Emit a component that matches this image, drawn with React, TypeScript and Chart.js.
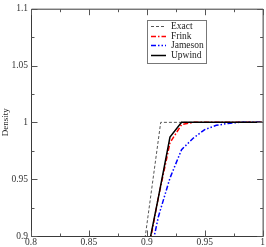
import React, { useEffect, useRef } from "react";
import { Chart, registerables } from "chart.js";

Chart.register(...registerables);

// ---- data ----
const gridX = [0.89, 0.9, 0.91, 0.92, 0.93, 0.94, 0.95, 0.96, 0.97, 0.98, 0.99, 1.0];
const frinkY = [0.83, 0.88, 0.934, 0.982, 0.998, 1.0, 1.0, 1.0, 1.0, 1.0, 1.0, 1.0];
const jamesonY = [0.82, 0.869, 0.917, 0.951, 0.976, 0.986, 0.9936, 0.9974, 0.999, 1.0, 1.0, 1.0];
const upwindY = [0.83, 0.883, 0.934, 0.987, 1.0, 1.0, 1.0, 1.0, 1.0, 1.0, 1.0, 1.0];
const exactX = [0.895, 0.912, 1.0];
const exactY = [0.872, 1.0, 1.0];

const seriesLabels = ["Exact", "Frink", "Jameson", "Upwind"];
const xTickValues = [0.8, 0.85, 0.9, 0.95, 1.0];
const xTickLabels = ["0.8", "0.85", "0.9", "0.95", "1"];
const yTickValues = [0.9, 0.95, 1.0, 1.05, 1.1];
const yTickLabels = ["0.9", "0.95", "1", "1.05", "1.1"];
const yTitle = "Density";

const FONT = "'Liberation Serif', 'DejaVu Serif', serif";

const pts = (xs: number[], ys: number[]) => xs.map((x, i) => ({ x, y: ys[i] }));

const labelFor = (vals: number[], labels: string[]) => (v: any) => {
  const n = Number(v);
  const i = vals.findIndex((t) => Math.abs(t - n) < 1e-6);
  return i >= 0 ? labels[i] : "";
};

const frameTicks = {
  id: "frameTicks",
  afterDatasetsDraw(chart: any) {
    const { ctx, chartArea: a, scales } = chart;
    const xs = scales.x;
    const ys = scales.y;
    ctx.save();
    ctx.strokeStyle = "#3a3a3a";
    ctx.lineWidth = 1;
    const L = a.left + 0.5, R = a.right + 0.5, T = a.top + 0.5, B = a.bottom + 0.5;
    ctx.beginPath();
    ctx.rect(L, T, R - L, B - T);
    ctx.stroke();
    ctx.strokeStyle = "#555";
    ctx.beginPath();
    for (let k = 0; k <= 8; k++) {
      const v = xs.min + (k * (xs.max - xs.min)) / 8;
      const len = k % 2 === 0 ? 6 : 3;
      const px = Math.round(xs.getPixelForValue(v)) + 0.5;
      ctx.moveTo(px, B); ctx.lineTo(px, B - len);
      ctx.moveTo(px, T); ctx.lineTo(px, T + len);
    }
    for (let k = 0; k <= 8; k++) {
      const v = ys.min + (k * (ys.max - ys.min)) / 8;
      const len = k % 2 === 0 ? 6 : 3;
      const py = Math.round(ys.getPixelForValue(v)) + 0.5;
      ctx.moveTo(L, py); ctx.lineTo(L + len, py);
      ctx.moveTo(R, py); ctx.lineTo(R - len, py);
    }
    ctx.stroke();

    // legend box
    const bx = 147.5, by = 20.5, bw = 59, bh = 43;
    ctx.fillStyle = "#fff";
    ctx.fillRect(bx, by, bw, bh);
    ctx.strokeStyle = "#777";
    ctx.strokeRect(bx, by, bw, bh);
    const rows = [26, 35.5, 45, 55];
    ctx.font = `9.5px ${FONT}`;
    ctx.textBaseline = "middle";
    ctx.textAlign = "left";
    const order = [0, 1, 2, 3];
    order.forEach((di, r) => {
      const ds = chart.data.datasets[di];
      const yy = Math.round(rows[r]) + 0.5;
      ctx.save();
      ctx.strokeStyle = ds.borderColor;
      ctx.lineWidth = ds.borderWidth;
      ctx.setLineDash(ds.borderDash || []);
      ctx.beginPath();
      ctx.moveTo(151, yy);
      ctx.lineTo(166, yy);
      ctx.stroke();
      ctx.restore();
      ctx.fillStyle = "#222";
      ctx.fillText(ds.label, 171, rows[r] + 0.5);
    });
    ctx.restore();
  },
};

export default function App() {
  const ref = useRef<HTMLCanvasElement>(null);
  useEffect(() => {
    if (!ref.current) return;
    const chart = new Chart(ref.current, {
      type: "scatter",
      data: {
        datasets: [
          {
            label: seriesLabels[0],
            data: pts(exactX, exactY),
            showLine: true,
            borderColor: "#555",
            borderWidth: 1,
            borderDash: [3, 2],
            pointRadius: 0,
            order: 3,
          },
          {
            label: seriesLabels[1],
            data: pts(gridX, frinkY),
            showLine: true,
            borderColor: "#ff0000",
            borderWidth: 1.5,
            borderDash: [5, 2, 1.5, 2],
            pointRadius: 0,
            order: 2,
          },
          {
            label: seriesLabels[2],
            data: pts(gridX, jamesonY),
            showLine: true,
            borderColor: "#0000ff",
            borderWidth: 1.5,
            borderDash: [5, 2, 1.5, 2, 1.5, 2],
            pointRadius: 0,
            order: 1,
          },
          {
            label: seriesLabels[3],
            data: pts(gridX, upwindY),
            showLine: true,
            borderColor: "#000",
            borderWidth: 1.5,
            pointRadius: 0,
            order: 0,
          },
        ] as any,
      },
      options: {
        animation: false,
        responsive: false,
        maintainAspectRatio: false,
        layout: { padding: { top: 3, right: 3, left: 0, bottom: 0 }, autoPadding: false } as any,
        plugins: { legend: { display: false }, tooltip: { enabled: false } },
        scales: {
          x: {
            type: "linear",
            min: 0.8,
            max: 1.0,
            grid: { display: false, drawTicks: false },
            border: { display: false },
            afterFit: (s: any) => { s.height = 11; },
            afterBuildTicks: (s: any) => { s.ticks = xTickValues.map((v) => ({ value: v })); },
            ticks: {
              padding: 1,
              maxRotation: 0,
              autoSkip: false,
              color: "#333",
              font: { family: FONT, size: 9.5 },
              callback: labelFor(xTickValues, xTickLabels),
            },
          },
          y: {
            type: "linear",
            min: 0.9,
            max: 1.1,
            grid: { display: false, drawTicks: false },
            border: { display: false },
            afterFit: (s: any) => { s.width = 31; },
            afterBuildTicks: (s: any) => { s.ticks = yTickValues.map((v) => ({ value: v })); },
            title: {
              display: true,
              text: yTitle,
              color: "#222",
              padding: 0,
              font: { family: FONT, size: 9 },
            },
            ticks: {
              padding: 3,
              autoSkip: false,
              color: "#333",
              font: { family: FONT, size: 9.5 },
              callback: labelFor(yTickValues, yTickLabels),
            },
          },
        },
      } as any,
      plugins: [frameTicks],
    });
    return () => chart.destroy();
  }, []);
  return (
    <div style={{ position: "absolute", left: 0, top: 0, width: 266, height: 247, background: "#fff" }}>
      <canvas ref={ref} width={266} height={247} style={{ display: "block" }} />
    </div>
  );
}
